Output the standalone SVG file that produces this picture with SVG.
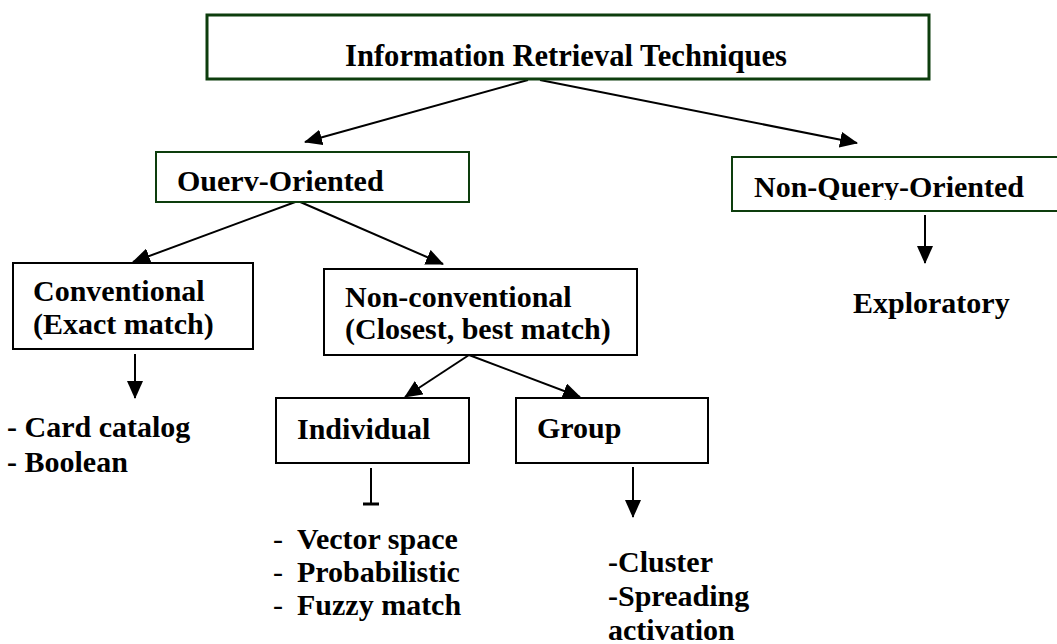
<svg xmlns="http://www.w3.org/2000/svg" width="1057" height="644" viewBox="0 0 1057 644">
<style>
text{font-family:'Liberation Serif','Times New Roman',serif;font-weight:700;font-size:30px;fill:#000}
.g{fill:#fff;stroke:#0d3d0d;stroke-width:2}
.b{fill:#fff;stroke:#000;stroke-width:2}
.c{stroke:#000;stroke-width:2;fill:none}
</style>
<defs>
<marker id="a" viewBox="0 0 18 16" refX="17" refY="8" markerWidth="18" markerHeight="16" orient="auto" markerUnits="userSpaceOnUse">
<path d="M0,0 L18,8 L0,16 Z" fill="#000"/>
</marker>
<clipPath id="cq"><rect x="156" y="150" width="314" height="41.5"/></clipPath>
<clipPath id="cn"><rect x="732" y="155" width="330" height="45"/></clipPath>
</defs>
<g id="connectors">
<line class="c" x1="528" y1="80" x2="305" y2="142" marker-end="url(#a)"/>
<line class="c" x1="540" y1="80" x2="857" y2="143" marker-end="url(#a)"/>
<line class="c" x1="298" y1="201" x2="133" y2="262" marker-end="url(#a)"/>
<line class="c" x1="298" y1="201" x2="443" y2="264" marker-end="url(#a)"/>
<line class="c" x1="469" y1="355" x2="405" y2="397" marker-end="url(#a)"/>
<line class="c" x1="469" y1="355" x2="580" y2="397" marker-end="url(#a)"/>
<line class="c" x1="135" y1="354" x2="135" y2="398" marker-end="url(#a)"/>
<line class="c" x1="925" y1="215" x2="925" y2="263" marker-end="url(#a)"/>
<line class="c" x1="633" y1="467" x2="633" y2="517" marker-end="url(#a)"/>
<line class="c" x1="371" y1="468" x2="371" y2="504"/>
<line x1="363" y1="504" x2="379" y2="504" stroke="#000" stroke-width="3"/>
</g>
<g id="top">
<rect x="207" y="15" width="722" height="64" fill="#fff" stroke="#0d3d0d" stroke-width="3"/>
<text x="345" y="66" style="font-size:30.6px">Information Retrieval Techniques</text>
</g>
<g id="query">
<rect class="g" x="156" y="152" width="313" height="50"/>
<text x="177" y="191" clip-path="url(#cq)">Ouerv-Oriented</text>
</g>
<g id="nonquery">
<rect class="g" x="732" y="157" width="340" height="54"/>
<text x="754" y="197" clip-path="url(#cn)">Non-Query-Oriented</text>
</g>
<g id="exploratory">
<text x="853" y="313">Exploratory</text>
</g>
<g id="conventional">
<rect class="b" x="13" y="263" width="240" height="86"/>
<text x="33" y="301">Conventional</text>
<text x="33" y="334">(Exact match)</text>
</g>
<g id="conv-list">
<text x="7" y="437">- Card catalog</text>
<text x="7" y="472">- Boolean</text>
</g>
<g id="nonconventional">
<rect class="b" x="324" y="269" width="313" height="86"/>
<text x="345" y="307">Non-conventional</text>
<text x="345" y="339">(Closest, best match)</text>
</g>
<g id="individual">
<rect class="b" x="276" y="398" width="193" height="65"/>
<text x="297" y="439">Individual</text>
</g>
<g id="group">
<rect class="b" x="516" y="398" width="192" height="65"/>
<text x="537" y="438">Group</text>
</g>
<g id="individual-list">
<text x="273" y="549" style="font-weight:400">-</text><text x="297" y="549">Vector space</text>
<text x="273" y="582" style="font-weight:400">-</text><text x="297" y="582">Probabilistic</text>
<text x="273" y="615" style="font-weight:400">-</text><text x="297" y="615">Fuzzy match</text>
</g>
<g id="group-list">
<text x="608" y="572">-Cluster</text>
<text x="608" y="606">-Spreading</text>
<text x="608" y="640">activation</text>
</g>
</svg>
